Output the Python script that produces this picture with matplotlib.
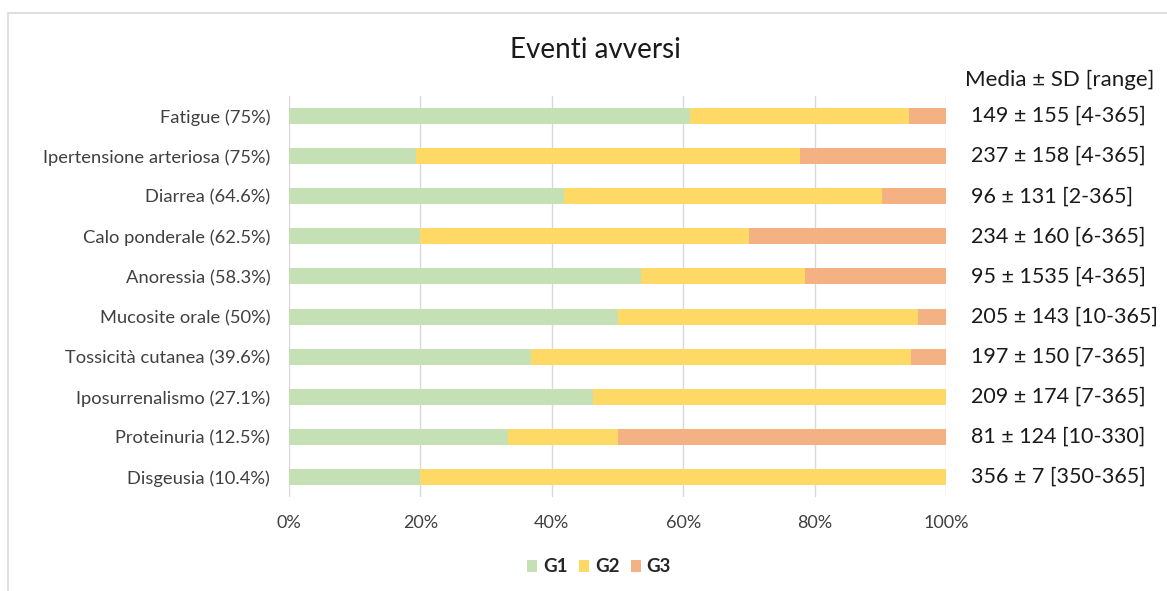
import matplotlib
matplotlib.use("Agg")
import matplotlib.pyplot as plt
from matplotlib.patches import Rectangle
import numpy as np

plt.rcParams['font.family'] = ['Lato', 'DejaVu Sans']

categories = [
    "Fatigue (75%)",
    "Ipertensione arteriosa (75%)",
    "Diarrea (64.6%)",
    "Calo ponderale (62.5%)",
    "Anoressia (58.3%)",
    "Mucosite orale (50%)",
    "Tossicità cutanea (39.6%)",
    "Iposurrenalismo (27.1%)",
    "Proteinuria (12.5%)",
    "Disgeusia (10.4%)",
]
g1 = [61.1, 19.4, 41.9, 20.0, 53.6, 50.0, 36.8, 46.2, 33.3, 20.0]
g2 = [33.3, 58.4, 48.4, 50.0, 25.0, 45.8, 57.9, 53.8, 16.7, 80.0]
g3 = [5.6, 22.2, 9.7, 30.0, 21.4, 4.2, 5.3, 0.0, 50.0, 0.0]
stats = [
    "149 ± 155 [4-365]",
    "237 ± 158 [4-365]",
    "96 ± 131 [2-365]",
    "234 ± 160 [6-365]",
    "95 ± 1535 [4-365]",
    "205 ± 143 [10-365]",
    "197 ± 150 [7-365]",
    "209 ± 174 [7-365]",
    "81 ± 124 [10-330]",
    "356 ± 7 [350-365]",
]
series_names = ["G1", "G2", "G3"]
colors = ["#C5E0B4", "#FFD966", "#F4B183"]

W, H = 1167, 591
fig = plt.figure(figsize=(W / 100, H / 100), dpi=100)

# chart frame
fig.patches.append(Rectangle((8 / W, -0.1), 1.2, 1 - 13 / H + 0.1,
                             transform=fig.transFigure, fill=False,
                             edgecolor="#D9D9D9", linewidth=1.2))

ax = fig.add_axes([289 / W, 1 - 497 / H, (946 - 289) / W, (497 - 96) / H])

y = np.arange(len(categories))
left = np.zeros(len(categories))
for vals, name, col in zip([g1, g2, g3], series_names, colors):
    ax.barh(y, vals, left=left, height=0.4, color=col, label=name, zorder=3)
    left += np.array(vals)

ax.set_xlim(0, 100)
ax.set_ylim(len(categories) - 0.5, -0.5)
ax.set_yticks(y)
ax.set_yticklabels(categories, fontsize=13.2, color="#404040")
ax.set_xticks(np.arange(0, 101, 20))
ax.set_xticklabels([f"{v}%" for v in range(0, 101, 20)], fontsize=13, color="#404040")
ax.tick_params(axis="y", length=0, pad=13.5)
ax.tick_params(axis="x", length=0, pad=13)
ax.grid(axis="x", color="#D9D9D9", linewidth=1, zorder=0)
for s in ax.spines.values():
    s.set_visible(False)

fig.text(595 / W, 1 - 50 / H, "Eventi avversi", ha="center", va="center",
         fontsize=20, color="#1a1a1a")
fig.text(1060 / W, 1 - 80 / H, "Media ± SD [range]", ha="center", va="center",
         fontsize=16, color="#1a1a1a")

for i, s in enumerate(stats):
    yf = ax.transData.transform((0, i))[1]
    fig.text(971 / W, yf / H, s, ha="left", va="center", fontsize=15.5,
             color="#1a1a1a")

leg = fig.legend(loc="center", bbox_to_anchor=(599 / W, 1 - 567 / H), ncol=3,
                 frameon=False, handlelength=0.55, handleheight=0.55,
                 handletextpad=0.3, columnspacing=0.6,
                 prop={"weight": "bold", "size": 13.5})
for t in leg.get_texts():
    t.set_color("#262626")

fig.savefig("out.png", dpi=100)
